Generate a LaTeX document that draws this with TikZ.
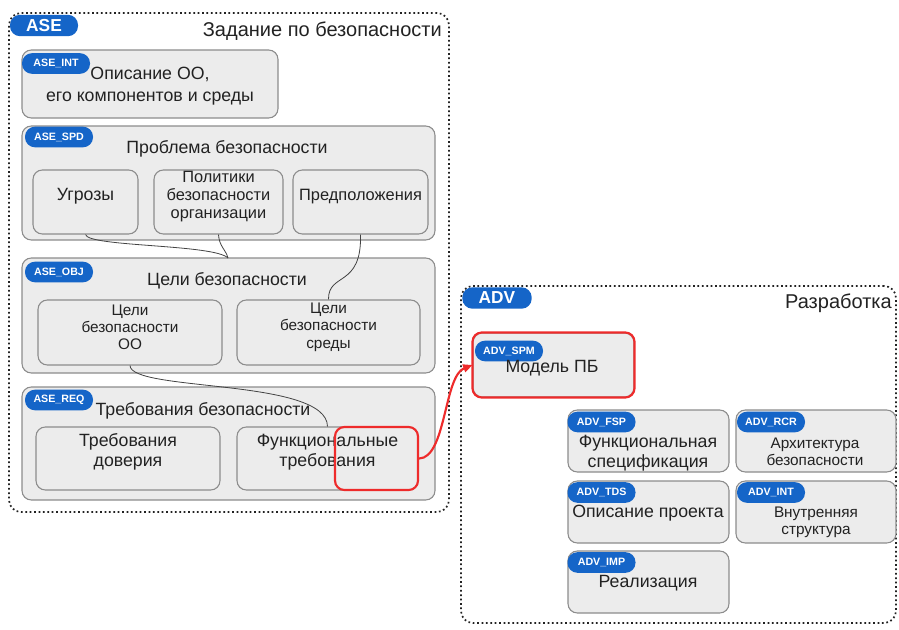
\documentclass[tikz,border=0pt]{standalone}
\usepackage{fontspec}
\setmainfont{Liberation Sans}
\usetikzlibrary{fit,arrows.meta}
\definecolor{tagblue}{HTML}{1565C8}
\definecolor{boxfill}{HTML}{ECECEC}
\definecolor{boxline}{HTML}{8C8C8C}
\definecolor{hot}{HTML}{EE2B2B}
\definecolor{ink}{HTML}{222222}
\newcommand\fBig{\fontsize{15}{18}\selectfont}
\newcommand\fMain{\fontsize{13.3}{15}\selectfont}
\newcommand\fLoose{\fontsize{13.3}{16.5}\selectfont}
\newcommand\fMid{\fontsize{12.3}{13.5}\selectfont}
\newcommand\fSmall{\fontsize{11.5}{13}\selectfont}
\newcommand\fTagBig{\fontsize{13}{15}\selectfont}
\newcommand\fTag{\fontsize{8}{9}\selectfont}
\begin{document}
\begin{tikzpicture}[x=0.75pt,y=-0.75pt,
  group/.style={draw=ink, dotted, line width=1.3pt, rounded corners=9pt, inner sep=0pt},
  panel/.style={draw=boxline, fill=boxfill, line width=0.8pt, rounded corners=7pt, inner sep=0pt},
  cell/.style={panel, align=center, text=ink, font=\fMain},
  smallcell/.style={cell, font=\fSmall},
  tag/.style={fill=tagblue, text=white, font=\bfseries\fTag, rounded corners=7.5pt,
    minimum height=15.5pt, minimum width=51pt, inner sep=0pt},
  bigtag/.style={tag, font=\bfseries\fTagBig, minimum height=16pt},
  txt/.style={text=ink, align=center, inner sep=0pt, font=\fMain},
  link/.style={draw=ink!85, line width=0.6pt},
  focusbox/.style={draw=hot, line width=1.6pt, rounded corners=7pt, inner sep=0pt},
]
\useasboundingbox (0,0) rectangle (899,629);

% ---------- Security target ----------
\node[group, fit={(9,13) (449,512)}] (ase) {};
\node[bigtag] (asetag) at (44,25.5) {ASE};
\node[txt, font=\fBig, anchor=east] (asetitle) at (442,31) {Задание по безопасности};

% TOE description
\node[panel, fit={(22,50) (278,118)}] (aseint) {};
\node[tag] (aseinttag) at (56,63.5) {ASE\_INT};
\node[txt, font=\fLoose] (aseinttext) at (150,86) {Описание ОО,\\его компонентов и среды};

% Security problem definition
\node[panel, fit={(22,126) (435,240)}] (asespd) {};
\node[tag] (asespdtag) at (59,137) {ASE\_SPD};
\node[txt] (asespdtitle) at (227,149) {Проблема безопасности};
\node[cell, fit={(33,170) (138,234)}] (threats) {Угрозы};
\node[cell, font=\fMid, fit={(154,170) (283,234)}] (policies) {Политики\\безопасности\\организации};
\node[cell, font=\fMid, fit={(293,170) (428,234)}] (assump) {Предположения};

% Security objectives
\node[panel, fit={(22,258) (435,373)}] (aseobj) {};
\node[tag] (aseobjtag) at (59,272) {ASE\_OBJ};
\node[txt] (aseobjtitle) at (227,281) {Цели безопасности};
\node[smallcell, fit={(38,300) (222,365)}] (toegoals) {Цели\\безопасности\\ОО};
\node[smallcell, fit={(237,300) (420,365)}] (envgoals) {Цели\\безопасности\\среды};
\coordinate (objin) at (228,258);

% Security requirements
\node[panel, fit={(22,387) (435,500)}] (asereq) {};
\node[tag] (asereqtag) at (59,400) {ASE\_REQ};
\node[txt] (asereqtitle) at (203,411) {Требования безопасности};
\node[cell, fit={(36,427) (220,490)}] (assurreq) {Требования\\доверия};
\node[cell, fit={(237,427) (418,490)}] (funcreq) {Функциональные\\требования};

% links inside the security target
\draw[link] (threats.south) .. controls (88,247) and (214,244) .. (objin);
\draw[link] (policies.south) .. controls (219,246) and (226,250) .. (objin);
\draw[link] (assump.south) .. controls (362,288) and (328,272) .. (envgoals.north);
\draw[link] (toegoals.south) .. controls (131,392) and (327,378) .. (funcreq.north);

% ---------- Development ----------
\node[group, fit={(461,286) (896,623)}] (adv) {};
\node[bigtag, minimum width=52pt] (advtag) at (497,298) {ADV};
\node[txt, font=\fBig, anchor=east] (advtitle) at (892,303) {Разработка};

\node[panel, fit={(473,333) (634,397)}] (spm) {};
\node[tag] (spmtag) at (509,351) {ADV\_SPM};
\node[txt] (spmtext) at (552,368) {Модель ПБ};

\node[panel, fit={(568,410) (729,472)}] (fsp) {};
\node[tag] (fsptag) at (601.5,422) {ADV\_FSP};
\node[txt] (fsptext) at (648,453) {Функциональная\\спецификация};

\node[panel, fit={(736,410) (896,472)}] (rcr) {};
\node[tag] (rcrtag) at (771,422) {ADV\_RCR};
\node[txt, font=\fSmall] (rcrtext) at (815,452) {Архитектура\\безопасности};

\node[panel, fit={(568,481) (729,543)}] (tds) {};
\node[tag] (tdstag) at (601.5,492.5) {ADV\_TDS};
\node[txt] (tdstext) at (648,513) {Описание проекта};

\node[panel, fit={(736,481) (896,543)}] (int) {};
\node[tag] (inttag) at (771,492.5) {ADV\_INT};
\node[txt, font=\fSmall] (inttext) at (816,522) {Внутренняя\\структура};

\node[panel, fit={(568,551) (729,613)}] (imp) {};
\node[tag] (imptag) at (601.5,562.5) {ADV\_IMP};
\node[txt] (imptext) at (648,583) {Реализация};

% ---------- highlighted dependency ----------
\node[focusbox, fit={(335,427) (418,490)}] (focus) {};
\draw[hot, line width=1.6pt, line cap=round, -{Triangle[length=7pt,width=6pt]}]
  (focus.east) .. controls (446,458) and (444,376) .. (spm.west);
\draw[draw=hot, line width=1.6pt, rounded corners=7pt] (spm.south west) rectangle (spm.north east);
\end{tikzpicture}
\end{document}
